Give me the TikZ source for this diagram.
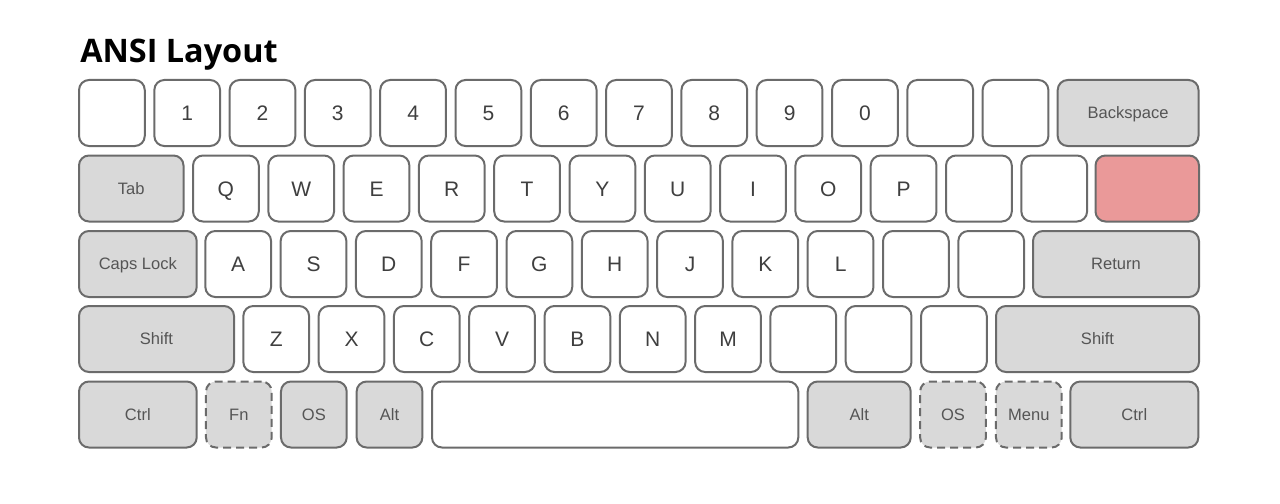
\documentclass[tikz,border=0pt]{standalone}
\usepackage{fontspec}
\setmainfont{Liberation Sans}
\newfontfamily\titlefont{Open Sans}
\usepackage{tikz}
\usetikzlibrary{positioning}

\definecolor{keyline}{HTML}{6B6B6B}
\definecolor{modfill}{HTML}{D9D9D9}
\definecolor{redfill}{HTML}{EA9999}
\definecolor{keytext}{HTML}{3F3F3F}
\definecolor{modtext}{HTML}{555555}

\begin{document}
\begin{tikzpicture}[x=0.75pt,y=-0.75pt]

\tikzset{key/.style={draw=keyline, line width=1.5pt, fill=white, rounded corners=7.5pt,
            minimum width=49.3pt, minimum height=49.5pt, inner sep=0pt, text=keytext,
            text height=11.3pt, text depth=0pt, font=\fontsize{15.75}{18}\selectfont},
         modkey/.style={key, fill=modfill, text=modtext, text height=8.9pt,
            font=\fontsize{12.4}{14}\selectfont},
         optkey/.style={modkey, dash pattern=on 6pt off 3.75pt},
         keyw/.style={minimum width=#1*0.75pt}}

\useasboundingbox (0,0) rectangle (1280,503);

\node[anchor=base west, inner sep=0pt, font=\titlefont\bfseries\fontsize{24.3}{28}\selectfont] (title) at (80,62.7) {ANSI Layout};

% number row
\foreach \t [count=\i from 0] in {{},1,2,3,4,5,6,7,8,9,0,{},{}}
    \node[key] (r1-\i) at (111.9+75.3*\i,113) {\t};
\node[modkey, keyw=140.8] (bksp) at (1128.1,113) {Backspace};

% top row
\node[modkey, keyw=104.5] (tab) at (131.25,188.5) {Tab};
\foreach \t [count=\i from 0] in {Q,W,E,R,T,Y,U,I,O,P,{},{}}
    \node[key] (r2-\i) at (225.9+75.3*\i,188.5) {\t};
\node[key, fill=redfill, keyw=103.5] (bslash) at (1147.25,188.5) {};

% home row
\node[modkey, keyw=117.7] (caps) at (137.85,264) {Caps Lock};
\foreach \t [count=\i from 0] in {A,S,D,F,G,H,J,K,L,{},{}}
    \node[key] (r3-\i) at (238.2+75.3*\i,264) {\t};
\node[modkey, keyw=166] (ret) at (1116,264) {Return};

% bottom row
\node[modkey, keyw=155] (lshift) at (156.5,339) {Shift};
\foreach \t [count=\i from 0] in {Z,X,C,V,B,N,M,{},{},{}}
    \node[key] (r4-\i) at (276.2+75.3*\i,339) {\t};
\node[modkey, keyw=203] (rshift) at (1097.5,339) {Shift};

% space row
\node[modkey, keyw=117.7] (lctrl) at (137.85,414.5) {Ctrl};
\node[optkey] (fn) at (238.85,414.5) {Fn};
\node[modkey] (los) at (313.85,414.5) {OS};
\node[modkey] (lalt) at (389.5,414.5) {Alt};
\node[key, keyw=366.3] (space) at (615.15,414.5) {};
\node[modkey, keyw=103] (ralt) at (859.2,414.5) {Alt};
\node[optkey] (ros) at (953,414.5) {OS};
\node[optkey] (menu) at (1028.85,414.5) {Menu};
\node[modkey, keyw=128] (rctrl) at (1134.3,414.5) {Ctrl};

\end{tikzpicture}
\end{document}
